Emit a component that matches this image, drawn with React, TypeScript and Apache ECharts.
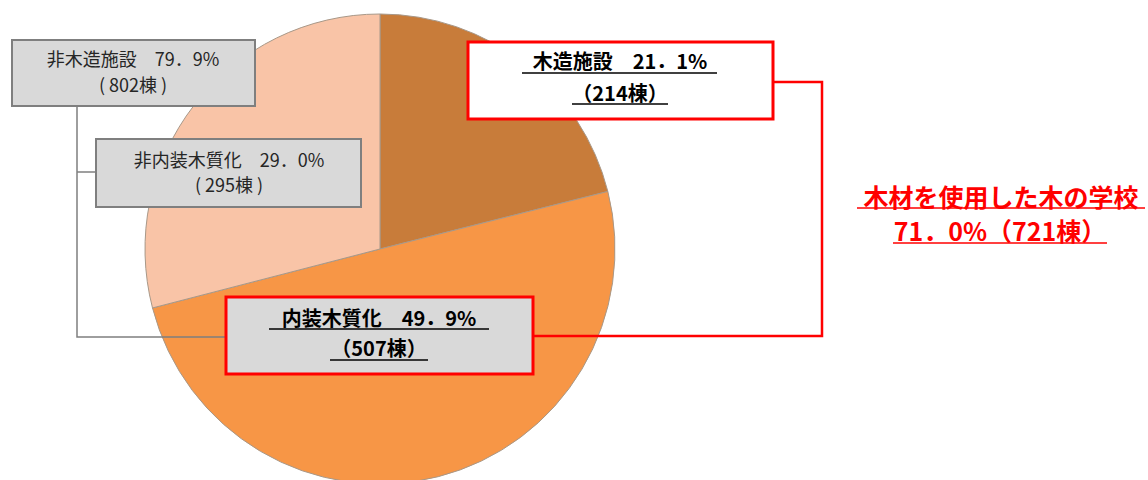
import React, { useEffect, useRef } from "react";
import * as echarts from "echarts";

const categories = ["木造施設", "内装木質化", "非内装木質化"];
const counts = [214, 507, 295];
const colors = ["#C87C3A", "#F79646", "#F9C4A7"];

const FONT = "'Noto Sans CJK JP', sans-serif";

function underline(x1: number, x2: number, y: number, color: string, w = 1.5) {
  return { type: "line", shape: { x1, y1: y, x2, y2: y }, style: { stroke: color, lineWidth: w }, z: 20 };
}

function txt(text: string, x: number, y: number, size: number, color: string, bold: boolean) {
  return {
    type: "text",
    x,
    y,
    z: 20,
    style: {
      text,
      x: 0,
      y: 0,
      fill: color,
      font: `${bold ? "bold " : ""}${size}px ${FONT}`,
      align: "center",
      verticalAlign: "middle",
    },
  };
}

export default function App() {
  const ref = useRef<HTMLDivElement>(null);
  useEffect(() => {
    if (!ref.current) return;
    const chart = echarts.init(ref.current, undefined, { renderer: "svg" });
    const grey = "#7F7F7F";
    const red = "#FF0000";
    chart.setOption({
      animation: false,
      backgroundColor: "#FFFFFF",
      series: [
        {
          type: "pie",
          center: [380, 249],
          radius: 235,
          startAngle: 90,
          clockwise: true,
          label: { show: false },
          labelLine: { show: false },
          silent: true,
          itemStyle: { borderColor: "#A89888", borderWidth: 1 },
          data: categories.map((name, i) => ({ name, value: counts[i], itemStyle: { color: colors[i] } })),
        },
      ],
      graphic: [
        // grey connectors
        { type: "polyline", z: 10, shape: { points: [[77, 106], [77, 337], [226, 337]] }, style: { stroke: grey, lineWidth: 1.5, fill: "none" } },
        { type: "line", z: 10, shape: { x1: 77, y1: 172, x2: 96, y2: 172 }, style: { stroke: grey, lineWidth: 1.5 } },
        // red connector
        { type: "polyline", z: 10, shape: { points: [[773, 82], [822, 82], [822, 336], [533, 336]] }, style: { stroke: red, lineWidth: 2.5, fill: "none" } },
        // grey box 1
        { type: "rect", z: 15, shape: { x: 12, y: 40, width: 243, height: 66 }, style: { fill: "#D9D9D9", stroke: grey, lineWidth: 2 } },
        txt("非木造施設　79．9%", 133, 58, 18, "#262626", false),
        txt("( 802棟 )", 133, 84, 18, "#262626", false),
        // grey box 2
        { type: "rect", z: 15, shape: { x: 96, y: 139, width: 265, height: 68 }, style: { fill: "#D9D9D9", stroke: grey, lineWidth: 2 } },
        txt("非内装木質化　29．0%", 229, 159, 18, "#262626", false),
        txt("( 295棟 )", 229, 184, 18, "#262626", false),
        // wood box
        { type: "rect", z: 15, shape: { x: 468, y: 42, width: 305, height: 77 }, style: { fill: "#FFFFFF", stroke: red, lineWidth: 3 } },
        txt("木造施設　21．1%", 620, 60, 20, "#000000", true),
        underline(522, 717, 73, "#000000"),
        txt("（214棟）", 620, 92, 20, "#000000", true),
        underline(572, 668, 104, "#000000"),
        // interior box
        { type: "rect", z: 15, shape: { x: 226, y: 297, width: 307, height: 77 }, style: { fill: "#D9D9D9", stroke: red, lineWidth: 3 } },
        txt("内装木質化　49．9%", 379, 317, 20, "#000000", true),
        underline(269, 489, 329, "#000000"),
        txt("（507棟）", 379, 347, 20, "#000000", true),
        underline(330, 428, 360, "#000000"),
        // red summary
        txt("木材を使用した木の学校", 1001, 196, 25, red, true),
        underline(857, 1145, 208, red),
        txt("71．0%（721棟）", 1000, 230, 25, red, true),
        underline(893, 1107, 243, red),
      ],
    });
    return () => chart.dispose();
  }, []);
  return <div ref={ref} style={{ width: 1148, height: 480, position: "absolute", left: 0, top: 0 }} />;
}
